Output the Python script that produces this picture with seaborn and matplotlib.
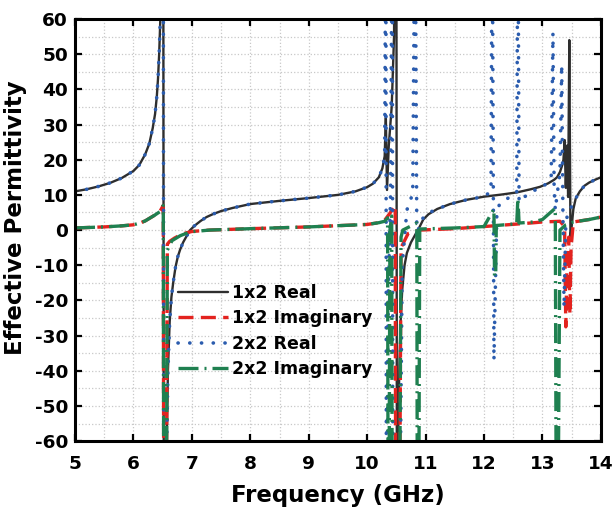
import numpy as np
import pandas as pd
import matplotlib
matplotlib.use('Agg')
import matplotlib.pyplot as plt
from matplotlib.ticker import MultipleLocator
import seaborn as sns

# values; +/-100 means the trace runs off the axis
freq_1x2_real = [5.0, 5.2, 5.4, 5.6, 5.8, 6.0, 6.1, 6.2, 6.27, 6.33, 6.37, 6.40, 6.42, 6.44,
                 6.46, 6.47, 6.51, 6.52, 6.57, 6.59, 6.62, 6.65, 6.68, 6.72, 6.76, 6.80,
                 6.85, 6.90, 6.97, 7.05, 7.15, 7.25, 7.37, 7.5, 7.7, 8.0, 8.5, 9.0, 9.5,
                 9.8, 10.0, 10.1, 10.2, 10.26, 10.30, 10.32, 10.34, 10.37, 10.42, 10.46,
                 10.48, 10.50, 10.51, 10.53, 10.55, 10.57, 10.60, 10.64, 10.68, 10.75,
                 10.85, 10.90, 10.96, 11.05, 11.2, 11.42, 11.7, 12.0, 12.3, 12.56, 12.8,
                 12.96, 13.1, 13.2, 13.25, 13.3, 13.34, 13.36, 13.38, 13.40, 13.42, 13.44,
                 13.46, 13.48, 13.50, 13.53, 13.57, 13.64, 13.72, 13.8, 13.9, 14.0]
val_1x2_real = [11.0, 11.6, 12.4, 13.4, 14.8, 16.8, 18.5, 21.5, 24.5, 29.0, 33.0, 38.0, 43.0,
                50.0, 60.0, 100, 100, -100, -60, -40, -26, -19, -15, -10.5, -7.5, -5.5,
                -3.5, -2.0, 0.0, 1.3, 2.6, 3.7, 4.6, 5.4, 6.3, 7.4, 8.3, 9.1, 10.0,
                11.0, 12.2, 13.2, 15.0, 17.5, 21.0, 32.0, 11.4, 24.0, 35.0, 55.0,
                100, 100, -100, -60, -40, -27, -17, -10, -6.5, -3.5,
                -0.5, 1.0, 3.0, 4.5, 6.0, 7.4, 8.6, 9.5, 10.1, 10.7, 11.6,
                12.3, 13.3, 14.3, 15.0, 16.5, 18.5, 20.0, 25.6, 12.0, 24.0, 9.4,
                54.0, -2.0, 1.0, 6.0, 9.0, 11.0, 12.6, 13.5, 14.3, 15.0]

freq_1x2_imag = [5.0, 5.5, 5.8, 6.0, 6.11, 6.2, 6.28, 6.36, 6.45, 6.51, 6.52, 6.56, 6.58,
                 6.62, 6.70, 6.80, 6.90, 7.0, 7.3, 8.0, 9.0, 10.0, 10.2, 10.30, 10.39,
                 10.48, 10.49, 10.55, 10.58, 10.70, 10.90, 11.5, 12.0, 12.79, 13.0, 13.30,
                 13.38, 13.40, 13.42, 13.45, 13.47, 13.49, 13.53, 13.8, 14.0]
val_1x2_imag = [0.6, 0.9, 1.2, 1.5, 2.0, 2.6, 3.4, 4.2, 5.2, 7.0, -100, -100, -4.0,
                -3.2, -2.3, -1.4, -0.8, -0.4, 0.0, 0.4, 0.9, 1.6, 2.1, 2.8, 4.8,
                7.0, -100, -100, -5.0, -1.0, 0.0, 0.4, 1.0, 2.0, 2.3, 2.5,
                1.0, -27.5, -10.0, -2.0, -24.0, -5.0, 2.3, 3.0, 3.7]

freq_2x2_real = [5.0, 5.2, 5.4, 5.6, 5.8, 6.0, 6.1, 6.2, 6.27, 6.33, 6.37, 6.40, 6.42, 6.44,
                 6.46, 6.47, 6.51, 6.52, 6.57, 6.59, 6.62, 6.65, 6.68, 6.72, 6.76, 6.80,
                 6.85, 6.90, 6.97, 7.05, 7.15, 7.25, 7.37, 7.5, 7.7, 8.0, 8.5, 9.0, 9.5,
                 9.8, 10.0, 10.1, 10.2, 10.26, 10.30, 10.32, 10.33, 10.36, 10.40, 10.43,
                 10.44, 10.55, 10.60, 10.68, 10.78, 10.82, 10.85, 10.90, 11.0, 11.2,
                 11.42, 11.7, 12.0, 12.12, 12.14, 12.17, 12.22, 12.27, 12.50, 12.56,
                 12.58, 12.60, 12.80, 13.0, 13.15, 13.18, 13.20, 13.22, 13.25, 13.30,
                 13.33, 13.35, 13.37, 13.40, 13.45, 13.53, 13.57, 13.64, 13.72, 13.8,
                 13.9, 14.0]
val_2x2_real = [11.0, 11.6, 12.4, 13.4, 14.8, 16.8, 18.5, 21.5, 24.5, 29.0, 33.0, 38.0, 43.0,
                50.0, 60.0, 100, 100, -100, -60, -40, -26, -19, -15, -10.5, -7.5, -5.5,
                -3.5, -2.0, 0.0, 1.3, 2.6, 3.7, 4.6, 5.4, 6.3, 7.4, 8.3, 9.1, 10.0,
                11.0, 12.2, 13.2, 15.0, 17.5, 21.0, 100, -100, -20, 10, 100,
                -100, -100, -10, 5.7, 10.4, 100, -2.0, 2.0, 4.5, 6.0,
                7.4, 8.6, 9.5, 11.0, 100, -37, 5.0, 7.6, 10.0, 10.5,
                100, 8.0, 11.0, 12.0, 15.0, 56.0, 12.0, 5.7, 10.0, 16.0,
                47.0, 6.0, -22.0, 2.0, 6.0, 7.0, 9.0, 11.0, 12.6, 13.5,
                14.3, 15.0]

freq_2x2_imag = [5.0, 5.5, 5.8, 6.0, 6.11, 6.2, 6.28, 6.36, 6.45, 6.51, 6.52, 6.56, 6.58,
                 6.66, 6.80, 6.97, 7.3, 8.0, 9.0, 10.0, 10.2, 10.30, 10.35, 10.36, 10.37,
                 10.39, 10.42, 10.43, 10.55, 10.58, 10.61, 10.85, 10.86, 10.88, 10.90,
                 11.5, 12.0, 12.17, 12.18, 12.20, 12.21, 12.56, 12.58, 12.60, 12.84, 13.0,
                 13.22, 13.24, 13.26, 13.30, 13.40, 13.53, 13.8, 14.0]
val_2x2_imag = [0.6, 0.9, 1.2, 1.5, 2.0, 2.6, 3.4, 4.2, 5.2, 7.0, -100, -100, -5.7,
                -3.0, -1.6, -0.5, 0.0, 0.4, 0.9, 1.6, 2.1, 2.5, 3.5, -100, -100,
                0.0, 4.0, -100, -100, -2.0, 0.0, 2.0, -100, -100, 0.3,
                0.6, 1.0, 6.0, -13, -13, 1.3, 1.8, 9.0, 2.0, 2.3, 3.0,
                6.2, -100, -100, 0.0, 1.5, 2.3, 3.0, 3.7]

series = [
    ('1x2 Real', freq_1x2_real, val_1x2_real, '#2e2e2e', '-', 1.7),
    ('1x2 Imaginary', freq_1x2_imag, val_1x2_imag, '#e3231f', (0, (4.5, 2.2)), 2.4),
    ('2x2 Real', freq_2x2_real, val_2x2_real, '#2b5cae', (0, (0.05, 3.2)), 2.6),
    ('2x2 Imaginary', freq_2x2_imag, val_2x2_imag, '#1f8050', (0, (6, 1.8, 0.6, 1.8)), 2.4),
]

sns.set_style('ticks')
plt.rcParams['font.family'] = ['DejaVu Sans']
plt.rcParams['font.weight'] = 'bold'
plt.rcParams['text.color'] = 'black'
plt.rcParams['axes.labelcolor'] = 'black'
plt.rcParams['axes.unicode_minus'] = False

fig = plt.figure(figsize=(6.15, 5.13), dpi=100)
ax = fig.add_axes([0.122, 0.140, 0.855, 0.823])

for name, f, v, col, ls, lw in series:
    df = pd.DataFrame({'Frequency': f, 'Value': v})
    sns.lineplot(data=df, x='Frequency', y='Value', ax=ax, color=col, lw=lw,
                 linestyle=ls, label=name, estimator=None, sort=False,
                 dash_capstyle='round' if name == '2x2 Real' else 'butt')

ax.set_xlim(5, 14)
ax.set_ylim(-60, 60)
ax.xaxis.set_major_locator(MultipleLocator(1))
ax.xaxis.set_minor_locator(MultipleLocator(0.5))
ax.yaxis.set_major_locator(MultipleLocator(10))
ax.yaxis.set_minor_locator(MultipleLocator(5))
ax.grid(which='both', linestyle=':', color='#c8c8c8', lw=0.9)
ax.tick_params(which='major', direction='in', length=5, width=1.6, top=True, right=True,
               labelsize=13.3, colors='black')
ax.tick_params(axis='x', pad=10)
ax.tick_params(axis='y', pad=5)
ax.tick_params(which='minor', length=0)
for lab in ax.get_xticklabels() + ax.get_yticklabels():
    lab.set_fontweight('bold')
for sp in ax.spines.values():
    sp.set_linewidth(2.2)
    sp.set_color('black')

ax.set_xlabel('Frequency (GHz)', fontsize=16.5, fontweight='bold', labelpad=8)
ax.set_ylabel('Effective Permittivity', fontsize=16.5, fontweight='bold')
ax.yaxis.set_label_coords(-0.092, 0.53)

leg = ax.legend(loc='upper left', bbox_to_anchor=(0.195, 0.372), frameon=False,
                fontsize=12.5, handlelength=2.9, handletextpad=0.25, labelspacing=0.42,
                borderpad=0, borderaxespad=0)
for t in leg.get_texts():
    t.set_fontweight('bold')

fig.savefig('out.png', dpi=100)
